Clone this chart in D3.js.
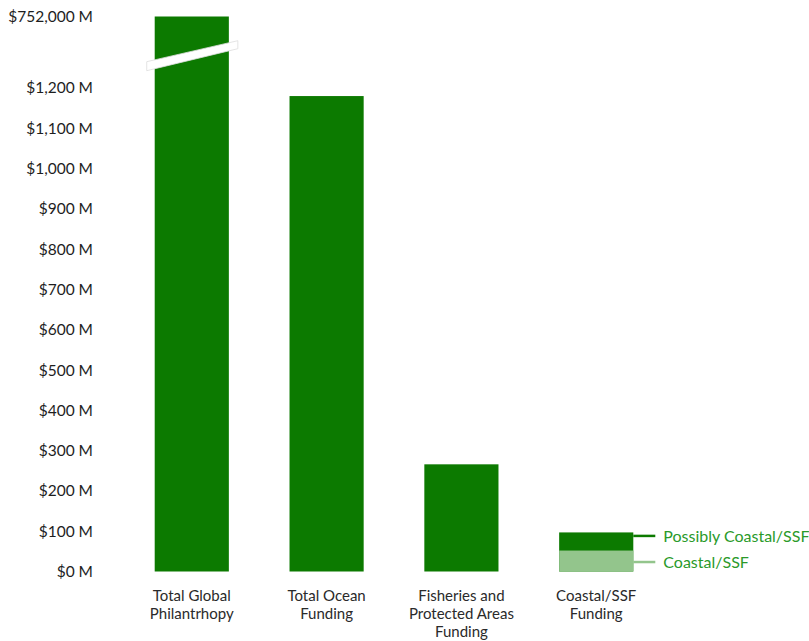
<!DOCTYPE html>
<html>
<head>
<meta charset="utf-8">
<style>
  body { margin: 0; background: #fff; font-family: Lato, sans-serif; }
  .tick text { font-size: 15.5px; fill: #1e1e1e; }
  .cat { font-size: 15px; fill: #2a2a2a; }
  .legend { font-size: 16px; fill: #2a9a2a; }
</style>
<title>Philanthropy funding</title>
</head>
<body>
<script src="https://cdn.jsdelivr.net/npm/d3@7"></script>
<script>

// data (millions of USD)
var categories = ["Total Global Philantrhopy", "Total Ocean Funding", "Fisheries and Protected Areas Funding", "Coastal/SSF Funding"];
var catLines = [["Total Global", "Philantrhopy"], ["Total Ocean", "Funding"], ["Fisheries and", "Protected Areas", "Funding"], ["Coastal/SSF", "Funding"]];
var totals = [752000, 1180, 266, 97];
var coastal = [0, 0, 0, 52];
var tickValues = [0, 100, 200, 300, 400, 500, 600, 700, 800, 900, 1000, 1100, 1200, 752000];
var legendLabels = ["Possibly Coastal/SSF", "Coastal/SSF"];

var width = 809, height = 641;
var dark = "#0c7a00", light = "#93c58c";

var svg = d3.select("body").append("svg")
    .attr("width", width)
    .attr("height", height);

// broken axis: linear up to 1200, then squeezed up to 752,000
var y = d3.scaleLinear()
    .domain([0, 1200, 752000])
    .range([571.5, 88, 16.5]);

var x = d3.scaleBand()
    .domain(categories)
    .range([121, 667])
    .paddingInner(0.45)
    .paddingOuter(0.25);

var fmt = d3.format(",");

svg.append("g")
    .attr("transform", "translate(93,0)")
    .call(d3.axisLeft(y)
      .tickValues(tickValues)
      .tickSize(0)
      .tickPadding(0)
      .tickFormat(function(d) { return "$" + fmt(d) + " M"; }))
  .call(function(g) { g.select(".domain").remove(); })
  .selectAll("text")
    .attr("font-family", "Lato, sans-serif");

// bars
svg.selectAll("rect.total")
    .data(categories)
  .enter().append("rect")
    .attr("class", "total")
    .attr("x", function(d) { return x(d); })
    .attr("width", x.bandwidth())
    .attr("y", function(d, i) { return y(totals[i]); })
    .attr("height", function(d, i) { return y(0) - y(totals[i]); })
    .attr("fill", dark);

svg.selectAll("rect.coastal")
    .data(categories.filter(function(d, i) { return coastal[i] > 0; }))
  .enter().append("rect")
    .attr("class", "coastal")
    .attr("x", function(d) { return x(d); })
    .attr("width", x.bandwidth())
    .attr("y", function(d) { return y(coastal[categories.indexOf(d)]); })
    .attr("height", function(d) { return y(0) - y(coastal[categories.indexOf(d)]); })
    .attr("fill", light);

// break mark across the first bar
var b0 = x(categories[0]) - 8, b1 = x(categories[0]) + x.bandwidth() + 9;
var yb = y(330000);
svg.append("path")
    .attr("d", "M" + b0 + "," + (yb + 5) + "L" + b1 + "," + (yb - 16) +
               "L" + b1 + "," + (yb - 8) + "L" + b0 + "," + (yb + 14) + "Z")
    .attr("fill", "#fff")
    .attr("stroke", "#ddd")
    .attr("stroke-width", 0.8);

// category labels, one text per line
categories.forEach(function(c, i) {
  svg.selectAll("text.cat" + i)
      .data(catLines[i])
    .enter().append("text")
      .attr("class", "cat cat" + i)
      .attr("text-anchor", "middle")
      .attr("x", x(c) + x.bandwidth() / 2)
      .attr("y", function(d, j) { return 601 + j * 18; })
      .text(function(d) { return d; });
});

// legend attached to the last bar
var last = categories[3];
var lx = x(last) + x.bandwidth();
var legendY = [y(totals[3]) + 3.5, y(coastal[3] / 2) + 1];
var legendCol = [dark, light];

legendLabels.forEach(function(t, i) {
  svg.append("line")
      .attr("x1", lx).attr("x2", lx + 22)
      .attr("y1", legendY[i]).attr("y2", legendY[i])
      .attr("stroke", legendCol[i])
      .attr("stroke-width", 2.5);
  svg.append("text")
      .attr("class", "legend")
      .attr("x", lx + 30)
      .attr("y", legendY[i])
      .attr("dy", "0.35em")
      .text(t);
});

</script>
</body>
</html>
